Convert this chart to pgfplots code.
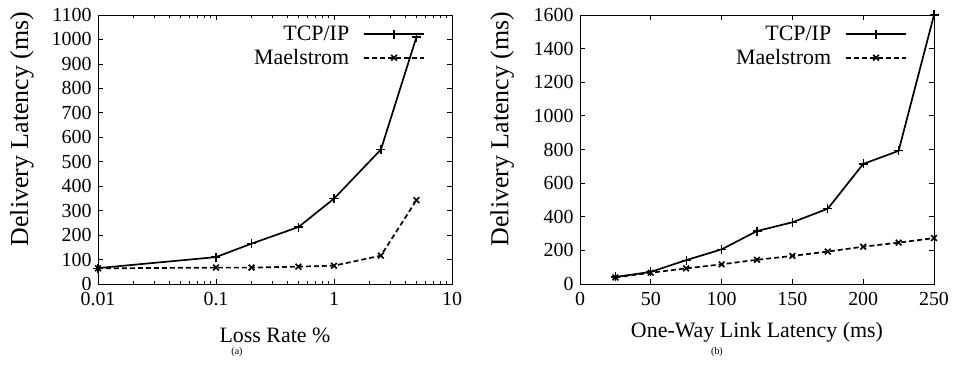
\documentclass[border=0pt]{standalone}
\usepackage{pgfplots}
\pgfplotsset{compat=1.18}
\usepackage{fontspec}
\setmainfont{Liberation Serif}
\pgfplotsset{
  gp/.style={
    scale only axis,
    width=354bp, height=269bp,
    tick align=inside,
    major tick length=5bp,
    minor tick length=3bp,
    axis line style={line width=0.8bp},
    tick style={line width=0.8bp, black},
    /pgf/number format/assume math mode=true,
    /pgf/number format/1000 sep={},
    every tick label/.append style={font=\fontsize{20}{22}\selectfont},
    yticklabel style={xshift=-3bp},
    xticklabel style={yshift=-5bp},
    legend style={draw=none, fill=none, inner sep=0pt, font=\fontsize{22}{24}\selectfont,
      at={(0.924,0.966)}, anchor=north east, cells={anchor=east}, row sep=3bp},
    legend plot pos=right,
    legend image code/.code={\path (0bp,0bp); \draw[mark repeat=2,mark phase=2,#1] plot coordinates {(12bp,0bp)(42bp,0bp)(72bp,0bp)};},
    every axis y label/.style={at={(axis description cs:-0.215,0.576)}, rotate=90, anchor=center, font=\fontsize{26}{28}\selectfont},
    every axis x label/.style={at={(axis description cs:0.5,-0.19)}, anchor=center, font=\fontsize{22}{24}\selectfont},
  },
  tcp/.style={black, line width=1.7bp, mark=+, mark size=4.5bp, mark options={solid, line width=1.2bp}},
  mael/.style={black, line width=1.7bp, dashed, dash pattern=on 5bp off 3bp, mark=x, mark size=4bp, mark options={solid, line width=1.6bp}},
}
\begin{document}
\begin{tikzpicture}
\useasboundingbox (0,0) rectangle (955bp,380bp);
\begin{axis}[gp, at={(98bp,96bp)}, anchor=south west,
  xmode=log, xmin=0.01, xmax=10,
  ymin=0, ymax=1100, ytick={0,100,...,1100},
  xtick={0.01,0.1,1,10}, xticklabels={0.01,0.1,1,10},
  xlabel={Loss Rate \%}, ylabel={Delivery Latency (ms)}]
\addplot[tcp] coordinates {(0.01,65) (0.1,110) (0.2,165) (0.5,233) (1,349) (2.5,550) (5,1010)};
\addlegendentry{TCP/IP}
\addplot[mael] coordinates {(0.01,64) (0.1,67) (0.2,67) (0.5,71) (1,75) (2.5,116) (5,343)};
\addlegendentry{Maelstrom}
\end{axis}
\begin{axis}[gp, at={(580bp,96bp)}, anchor=south west,
  xmin=0, xmax=250, xtick={0,50,...,250},
  ymin=0, ymax=1600, ytick={0,200,...,1600},
  every axis y label/.style={at={(axis description cs:-0.22,0.576)}, rotate=90, anchor=center, font=\fontsize{26}{28}\selectfont},
  every axis x label/.style={at={(axis description cs:0.5,-0.18)}, anchor=center, font=\fontsize{22}{24}\selectfont},
  xlabel={One-Way Link Latency (ms)}, ylabel={Delivery Latency (ms)}]
\addplot[tcp] coordinates {(25,42) (50,72) (75,142) (100,206) (125,315) (150,367) (175,448) (200,714) (225,792) (250,1600)};
\addlegendentry{TCP/IP}
\addplot[mael] coordinates {(25,39) (50,67) (75,93) (100,117) (125,144) (150,167) (175,193) (200,222) (225,246) (250,273)};
\addlegendentry{Maelstrom}
\end{axis}
\node[font=\fontsize{10}{11}\selectfont] at (237bp,28bp) {(a)};
\node[font=\fontsize{10}{11}\selectfont] at (717bp,28bp) {(b)};
\end{tikzpicture}
\end{document}
